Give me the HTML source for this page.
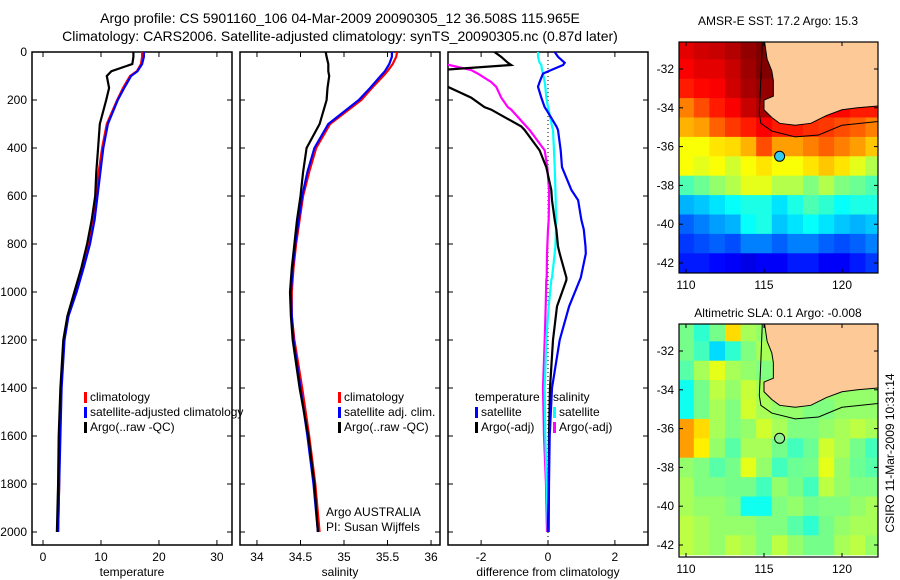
<!DOCTYPE html>
<html><head><meta charset="utf-8">
<style>
html,body{margin:0;padding:0;background:#fff;}
svg{display:block;font-family:"Liberation Sans",sans-serif;}
</style></head>
<body>
<svg id="fig" width="900" height="580" viewBox="0 0 900 580" xmlns="http://www.w3.org/2000/svg">
<defs>
<clipPath id="c1"><rect x="32" y="52" width="200" height="493"/></clipPath>
<clipPath id="c2"><rect x="240" y="52" width="200" height="493"/></clipPath>
<clipPath id="c3"><rect x="448" y="52" width="200" height="493"/></clipPath>
<clipPath id="m1"><rect x="679" y="42" width="199" height="231"/></clipPath>
<clipPath id="m2"><rect x="679" y="324" width="199" height="233"/></clipPath>
</defs>
<text x="340" y="23" font-size="14" text-anchor="middle">Argo profile: CS 5901160_106 04-Mar-2009 20090305_12 36.508S 115.965E</text>
<text x="340" y="41" font-size="14" text-anchor="middle">Climatology: CARS2006. Satellite-adjusted climatology: synTS_20090305.nc (0.87d later)</text>
<text x="778" y="25" font-size="12" text-anchor="middle">AMSR-E SST: 17.2 Argo: 15.3</text>
<text x="778" y="317" font-size="12" text-anchor="middle">Altimetric SLA: 0.1 Argo: -0.008</text>
<text transform="translate(894,453) rotate(-90)" font-size="12" text-anchor="middle">CSIRO 11-Mar-2009 10:31:14</text>
<g id="plots"></g>
</svg>
<script>
// ---- profile data ----
const depths = [0,20,50,80,100,150,200,300,400,500,600,700,800,900,1000,1100,1200,1400,1600,1800,2000];
const tempClim = [17.1,17.1,16.9,16.2,15.0,13.8,12.8,11.0,10.2,9.6,9.1,8.6,7.8,6.8,5.6,4.3,3.6,3.1,2.9,2.8,2.6];
const tempSat  = [17.4,17.4,17.1,16.3,15.2,14.0,12.9,11.2,10.4,9.9,9.4,8.9,8.1,7.0,5.8,4.4,3.7,3.2,3.0,2.8,2.6];
const tempArgo = [15.6,15.6,15.4,11.8,11.0,11.4,10.9,9.8,9.5,9.2,9.0,8.4,7.6,6.6,5.4,4.2,3.5,3.0,2.7,2.6,2.4];
const salClim  = [35.61,35.6,35.56,35.5,35.45,35.32,35.2,34.84,34.68,34.6,34.53,34.49,34.45,34.42,34.4,34.4,34.43,34.52,34.6,34.67,34.72];
const salSat   = [35.55,35.55,35.52,35.47,35.42,35.3,35.17,34.82,34.66,34.58,34.52,34.48,34.44,34.41,34.39,34.4,34.42,34.5,34.58,34.65,34.7];
const salArgo  = [34.79,34.8,34.82,34.82,34.83,34.81,34.8,34.72,34.57,34.53,34.5,34.46,34.43,34.4,34.38,34.39,34.41,34.49,34.59,34.66,34.7];
const diffDepths = [0,20,45,54,75,90,125,145,190,230,240,310,325,410,480,575,617,700,740,810,840,940,950,1060,1200,1400,1600,1800,2000];
const dTempSat  = [0.2,0.3,0.5,0.45,0.1,-0.15,-0.25,-0.3,-0.2,-0.1,-0.05,0.25,0.3,0.38,0.42,0.7,0.9,1.0,1.07,1.12,1.13,0.98,0.95,0.63,0.35,0.12,0.05,0.03,0.02];
const dTempArgo = [-1.6,-1.4,-1.2,-1.1,-3.2,-3.2,-3.2,-3.0,-2.3,-1.9,-1.7,-0.8,-0.7,-0.25,-0.05,0.1,0.12,0.2,0.25,0.3,0.35,0.55,0.55,0.27,0.15,0.06,0.03,0.02,0.0];
const dSalSat   = [-0.3,-0.3,-0.25,-0.2,-0.18,-0.15,-0.1,-0.08,-0.05,0.0,0.02,0.12,0.15,0.18,0.2,0.22,0.23,0.24,0.24,0.22,0.2,0.12,0.1,0.02,-0.05,-0.1,-0.08,-0.04,0.0];
const dSalArgo  = [-3.3,-3.3,-3.3,-2.95,-2.3,-2.1,-1.7,-1.55,-1.4,-1.2,-1.1,-0.65,-0.55,-0.1,-0.02,0.03,0.03,0.02,0.0,-0.02,-0.03,-0.04,-0.05,-0.07,-0.1,-0.15,-0.12,-0.06,-0.03];
const tempTicks = [0,10,20,30];
const salTicks = [34,34.5,35,35.5,36];
const salTickLabels = ["34","34.5","35","35.5","36"];
const diffTicks = [-2,0,2];
const depthTicks = [0,200,400,600,800,1000,1200,1400,1600,1800,2000];
// ---- map data (colour fraction 0..1), 1-degree cells ----
const mapLons = [109.5,110.5,111.5,112.5,113.5,114.5,115.5,116.5,117.5,118.5,119.5,120.5,121.5];
const mapLats = [-30.5,-31.5,-32.5,-33.5,-34.5,-35.5,-36.5,-37.5,-38.5,-39.5,-40.5,-41.5];
const sstGrid = [
 [.90,.92,.93,.95,.98,1.0,1.0,1,1,1,1,1,1],
 [.88,.90,.90,.93,.97,1.0,.99,1,1,1,1,1,1],
 [.85,.87,.88,.92,.96,.98,.98,1,1,1,1,1,1],
 [.75,.80,.85,.88,.93,.96,.95,.90,.88,.87,.87,.85,.85],
 [.70,.72,.78,.82,.85,.88,.85,.85,.83,.82,.80,.78,.75],
 [.62,.62,.65,.66,.70,.80,.72,.72,.75,.78,.75,.72,.68],
 [.62,.60,.62,.58,.62,.65,.62,.62,.65,.68,.65,.60,.55],
 [.45,.48,.52,.55,.60,.60,.55,.55,.50,.55,.50,.48,.45],
 [.30,.32,.35,.38,.40,.40,.35,.40,.45,.42,.38,.40,.40],
 [.22,.25,.28,.30,.38,.40,.32,.35,.38,.35,.32,.30,.32],
 [.18,.20,.22,.20,.25,.25,.22,.25,.25,.22,.20,.22,.25],
 [.15,.15,.13,.12,.10,.12,.12,.15,.15,.12,.12,.15,.18]];
const slaGrid = [
 [.55,.48,.55,.72,.60,.58,.60,.58,.58,.58,.58,.58,.58],
 [.55,.50,.40,.48,.56,.60,.60,.58,.58,.58,.58,.58,.58],
 [.52,.60,.66,.60,.58,.56,.58,.58,.58,.58,.58,.58,.58],
 [.45,.55,.62,.58,.63,.60,.58,.58,.58,.58,.58,.58,.58],
 [.45,.55,.60,.56,.64,.60,.58,.58,.56,.56,.58,.58,.58],
 [.78,.72,.60,.56,.58,.64,.60,.56,.56,.58,.60,.62,.60],
 [.78,.70,.58,.52,.60,.60,.55,.50,.54,.64,.60,.55,.50],
 [.58,.56,.52,.55,.66,.58,.50,.54,.55,.66,.58,.54,.52],
 [.60,.56,.56,.55,.55,.50,.58,.55,.50,.62,.58,.56,.56],
 [.60,.58,.58,.56,.45,.45,.56,.58,.55,.56,.56,.58,.60],
 [.62,.60,.58,.58,.58,.56,.56,.52,.48,.55,.58,.60,.60],
 [.62,.60,.58,.62,.60,.56,.62,.58,.55,.55,.60,.62,.58]];
const landLon = [115.0,122.4,122.4,121,120,119,118,117,116,115.5,115.0,115.0,115.6,115.6,115.5,115.2,115.0];
const landLat = [-30.4,-30.4,-33.9,-34.0,-34.1,-34.4,-34.8,-34.9,-34.8,-34.5,-34.1,-33.6,-33.4,-32.6,-32.1,-31.5,-30.4];
const isoLon = [114.9,114.8,114.7,114.8,115.5,117,118.5,120,122.4];
const isoLat = [-30.4,-32.5,-34.3,-34.8,-35.2,-35.5,-35.4,-34.9,-34.7];
const argoPos = [116.0,-36.5];
const mapXTicks = [110,115,120];
const mapYTicks = [-32,-34,-36,-38,-40,-42];

const NS='http://www.w3.org/2000/svg';
const root=document.getElementById('plots');
function mk(tag,attrs,parent){const e=document.createElementNS(NS,tag);for(const k in attrs)e.setAttribute(k,attrs[k]);(parent||root).appendChild(e);return e;}
function yD(d){return 52+d*0.24;}
function jet(v){v=Math.max(0,Math.min(1,v));
 const r=Math.max(0,Math.min(1,Math.min(4*v-1.5,-4*v+4.5)));
 const g=Math.max(0,Math.min(1,Math.min(4*v-0.5,-4*v+3.5)));
 const b=Math.max(0,Math.min(1,Math.min(4*v+0.5,-4*v+2.5)));
 return `rgb(${Math.round(r*255)},${Math.round(g*255)},${Math.round(b*255)})`;}

const panels=[
 {x0:32,lo:-1.9,hi:32.6,clip:'c1',ticks:tempTicks,labels:tempTicks.map(String),xlabel:'temperature',name:'temperature'},
 {x0:240,lo:33.805,hi:36.103,clip:'c2',ticks:salTicks,labels:salTickLabels,xlabel:'salinity',name:'salinity'},
 {x0:448,lo:-2.99,hi:2.99,clip:'c3',ticks:diffTicks,labels:diffTicks.map(String),xlabel:'difference from climatology',name:'difference'}];
panels.forEach((p,i)=>{
 p.sx=v=>p.x0+(v-p.lo)/(p.hi-p.lo)*200;
 const g=mk('g',{});
 
 
 mk('rect',{x:p.x0,y:52,width:200,height:493,fill:'none',stroke:'#000','stroke-width':1.5},g);
 p.ticks.forEach((t,j)=>{const x=p.sx(t);
  mk('line',{x1:x,y1:545,x2:x,y2:540,stroke:'#000'},g);mk('line',{x1:x,y1:52,x2:x,y2:57,stroke:'#000'},g);
  const tl=mk('text',{x:x,y:561,'font-size':12,'text-anchor':'middle'},g);tl.textContent=p.labels[j];
  });
 depthTicks.forEach(d=>{const y=yD(d);
  mk('line',{x1:p.x0,y1:y,x2:p.x0+5,y2:y,stroke:'#000'},g);mk('line',{x1:p.x0+200,y1:y,x2:p.x0+195,y2:y,stroke:'#000'},g);
  if(i===0){const tl=mk('text',{x:27,y:y+4,'font-size':12,'text-anchor':'end'},g);tl.textContent=d;
   }});
 const xl=mk('text',{x:p.x0+100,y:576,'font-size':12,'text-anchor':'middle'},g);xl.textContent=p.xlabel;
 
});
function line(p,dep,vals,color,name){
 const pts=dep.map((d,k)=>p.sx(vals[k]).toFixed(1)+','+yD(d).toFixed(1)).join(' ');
 const l=mk('polyline',{points:pts,fill:'none',stroke:color,'stroke-width':2.2,'clip-path':'url(#'+p.clip+')'});
 
 }
const P=panels;
mk('line',{x1:P[2].sx(0),y1:52,x2:P[2].sx(0),y2:545,stroke:'#000','stroke-dasharray':'1,3'});
line(P[0],depths,tempClim,'#f00','temp-climatology-line');
line(P[0],depths,tempSat,'#00f','temp-satellite-line');
line(P[0],depths,tempArgo,'#000','temp-argo-line');
line(P[1],depths,salClim,'#f00','sal-climatology-line');
line(P[1],depths,salSat,'#00f','sal-satellite-line');
line(P[1],depths,salArgo,'#000','sal-argo-line');
line(P[2],diffDepths,dSalArgo,'#f0f','diff-sal-argo-line');
line(P[2],diffDepths,dSalSat,'#0ff','diff-sal-satellite-line');
line(P[2],diffDepths,dTempArgo,'#000','diff-temp-argo-line');
line(P[2],diffDepths,dTempSat,'#00f','diff-temp-satellite-line');

function legend(x,y,items){items.forEach((it,k)=>{const yy=y+k*15;
 if(it[1]){mk('rect',{x:x,y:yy-9,width:3,height:11,fill:it[1]});}
 const t=mk('text',{x:x+(it[2]===false?0:6),y:yy,'font-size':12},root);t.textContent=it[0];
 });}
legend(84,401,[['climatology','#f00'],['satellite-adjusted climatology','#00f'],['Argo(..raw -QC)','#000']]);
legend(338,401,[['climatology','#f00'],['satellite adj. clim.','#00f'],['Argo(..raw -QC)','#000']]);
legend(475,401,[['temperature',null,false],['satellite','#00f'],['Argo(-adj)','#000']]);
legend(553,401,[['salinity',null,false],['satellite','#0ff'],['Argo(-adj)','#f0f']]);
const a1=mk('text',{x:326,y:516,'font-size':12});a1.textContent='Argo AUSTRALIA';

const a2=mk('text',{x:326,y:531,'font-size':12});a2.textContent='PI: Susan Wijffels';


// ---- maps ----
function drawMap(grid,top,clip,name,dotFill,cOff){
 const lx=lon=>686+(lon-110)*15.6;
 const ly=lat=>top+27+(-32-lat)*19.4;
 const g=mk('g',{'clip-path':'url(#'+clip+')'});
 
 
 mapLats.forEach((lat,r)=>mapLons.forEach((lon,c)=>{
  const x=lx(lon),y=ly(lat);
  const cell=mk('rect',{x:x.toFixed(1),y:y.toFixed(1),width:16.2,height:20,fill:jet(grid[r][c]-cOff)},g);
  
  }));
 const land=mk('polygon',{points:landLon.map((l,k)=>lx(l)+','+ly(landLat[k])).join(' '),fill:'#fdc997',stroke:'#000','stroke-width':1},g);
 
 const iso=mk('polyline',{points:isoLon.map((l,k)=>lx(l)+','+ly(isoLat[k])).join(' '),fill:'none',stroke:'#000','stroke-width':1},g);
 
 const dot=mk('circle',{cx:lx(argoPos[0]),cy:ly(argoPos[1]),r:5,fill:dotFill,stroke:'#000','stroke-width':1},g);
 
 const h=clip==='m1'?231:233;
 mk('rect',{x:679,y:top,width:199,height:h,fill:'none',stroke:'#000','stroke-width':1.2});
 mapXTicks.forEach(t=>{const x=lx(t);mk('line',{x1:x,y1:top+h,x2:x,y2:top+h-4,stroke:'#000'});mk('line',{x1:x,y1:top,x2:x,y2:top+4,stroke:'#000'});
  const tl=mk('text',{x:x,y:top+h+16,'font-size':12,'text-anchor':'middle'});tl.textContent=t;
  });
 mapYTicks.forEach(t=>{const y=ly(t);mk('line',{x1:679,y1:y,x2:683,y2:y,stroke:'#000'});mk('line',{x1:878,y1:y,x2:874,y2:y,stroke:'#000'});
  const tl=mk('text',{x:674,y:y+4,'font-size':12,'text-anchor':'end'});tl.textContent=t;
  });
}
drawMap(sstGrid,42,'m1','sst-map','#33ccee',0);
drawMap(slaGrid,324,'m2','sla-map','#90f090',0.06);
</script>
</body></html>
